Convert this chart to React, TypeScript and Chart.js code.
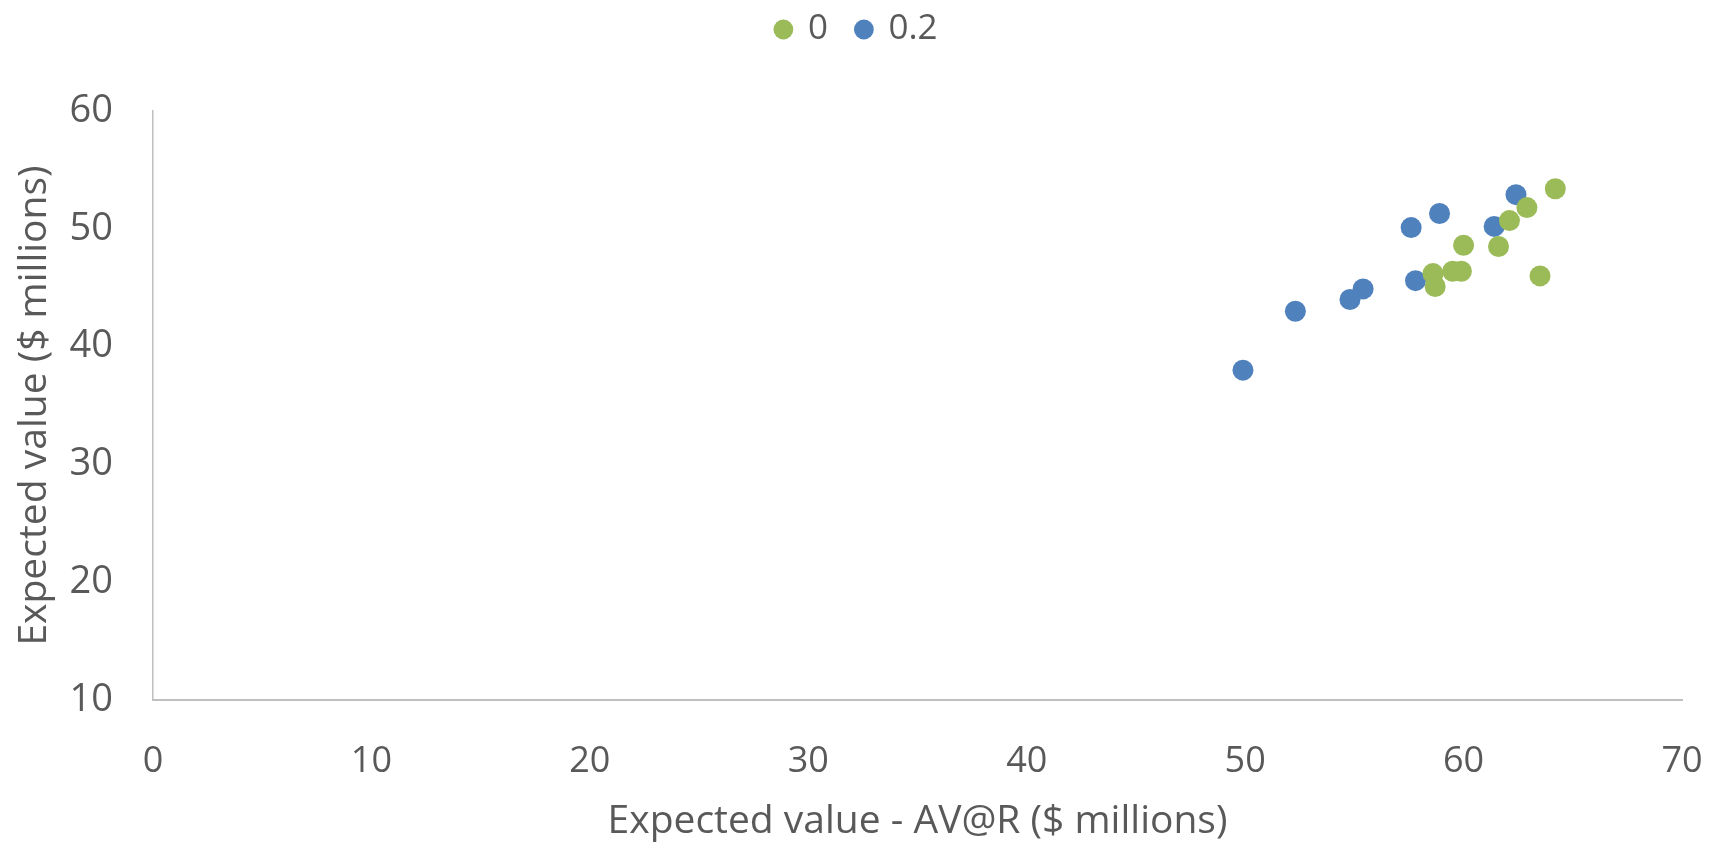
import { useEffect, useRef } from "react";
import { Chart, registerables } from "chart.js";

Chart.register(...registerables);

// Series labels (legend)
const seriesLabels = ["0", "0.2"];

// Series "0": expected value - AV@R vs expected value ($ millions)
const zeroX = [64.2, 62.9, 62.1, 60.0, 61.6, 63.5, 58.6, 58.7, 59.5, 59.9];
const zeroY = [53.4, 51.8, 50.7, 48.6, 48.5, 46.0, 46.2, 45.1, 46.4, 46.4];

// Series "0.2"
const pointTwoX = [49.9, 52.3, 54.8, 55.4, 57.6, 58.9, 57.8, 61.4, 62.4];
const pointTwoY = [38.0, 43.0, 44.0, 44.9, 50.1, 51.3, 45.6, 50.2, 52.9];

// Axis ranges
const xTickValues = [0, 10, 20, 30, 40, 50, 60, 70];
const yTickValues = [10, 20, 30, 40, 50, 60];

const xTitle = "Expected value - AV@R ($ millions)";
const yTitle = "Expected value ($ millions)";

const GREEN = "#9BBB59";
const BLUE = "#4F81BD";
const TEXT = "#595959";
const AXIS = "#BFBFBF";
const FONT = "'Open Sans', 'DejaVu Sans', sans-serif";

// Lifts the legend row above the plot, leaving a gap between them.
const LEGEND_TOP = -17;
const LEGEND_SHIFT_X = 16;
const legendLift = {
  id: "legendLift",
  afterLayout(chart: any) {
    const lg = chart.legend;
    if (!lg) return;
    const dy = lg.top - LEGEND_TOP;
    lg.top -= dy;
    lg.bottom -= dy;
    lg.left += LEGEND_SHIFT_X;
    lg.right += LEGEND_SHIFT_X;
  },
};

function toPoints(xs: number[], ys: number[]) {
  return xs.map((x, i) => ({ x, y: ys[i] }));
}

export default function App() {
  const canvasRef = useRef<HTMLCanvasElement | null>(null);

  useEffect(() => {
    if (!canvasRef.current) return;
    const chart = new Chart(canvasRef.current, {
      type: "scatter",
      data: {
        datasets: [
          {
            label: seriesLabels[0],
            data: toPoints(zeroX, zeroY),
            backgroundColor: GREEN,
            borderColor: GREEN,
            borderWidth: 0,
            pointRadius: 10.5,
            pointHoverRadius: 10.5,
            pointStyle: "circle",
          },
          {
            label: seriesLabels[1],
            data: toPoints(pointTwoX, pointTwoY),
            backgroundColor: BLUE,
            borderColor: BLUE,
            borderWidth: 0,
            pointRadius: 10.5,
            pointHoverRadius: 10.5,
            pointStyle: "circle",
          },
        ],
      },
      options: {
        animation: false,
        responsive: true,
        maintainAspectRatio: false,
        layout: { padding: { top: 37, right: 42, bottom: 0, left: 0 } },
        plugins: {
          tooltip: { enabled: false },
          legend: {
            position: "top",
            align: "center",
            labels: {
              usePointStyle: true,
              pointStyle: "circle",
              boxWidth: 14,
              boxHeight: 14,
              padding: 29,
              color: TEXT,
              font: { family: FONT, size: 35 },
            },
          },
        },
        scales: {
          x: {
            type: "linear",
            min: xTickValues[0],
            max: xTickValues[xTickValues.length - 1],
            afterBuildTicks: (s: any) => {
              s.ticks = xTickValues.map((v) => ({ value: v }));
            },
            afterFit: (s: any) => {
              s.height = 145;
              s.paddingLeft = 0;
              s.paddingRight = 0;
            },
            grid: { display: false, drawTicks: false },
            border: { display: true, color: AXIS, width: 2 },
            ticks: {
              color: TEXT,
              padding: 40,
              font: { family: FONT, size: 36 },
            },
            title: {
              display: true,
              text: xTitle,
              color: TEXT,
              font: { family: FONT, size: 39 },
              padding: { top: 0, bottom: 0 },
            },
          },
          y: {
            type: "linear",
            min: yTickValues[0],
            max: yTickValues[yTickValues.length - 1],
            afterBuildTicks: (s: any) => {
              s.ticks = yTickValues.map((v) => ({ value: v }));
            },
            afterFit: (s: any) => {
              s.width = 153;
              s.paddingTop = 0;
              s.paddingBottom = 0;
            },
            grid: { display: false, drawTicks: false },
            border: { display: true, color: AXIS, width: 1.5 },
            ticks: {
              color: TEXT,
              padding: 40,
              font: { family: FONT, size: 38 },
            },
            title: {
              display: true,
              text: yTitle,
              color: TEXT,
              font: { family: FONT, size: 39 },
              padding: { top: 11, bottom: 0 },
            },
          },
        },
      },
      plugins: [legendLift],
    } as any);
    return () => chart.destroy();
  }, []);

  return (
    <div style={{ position: "fixed", left: 0, top: 0, width: 1724, height: 845, background: "#fff" }}>
      <canvas ref={canvasRef} />
    </div>
  );
}
